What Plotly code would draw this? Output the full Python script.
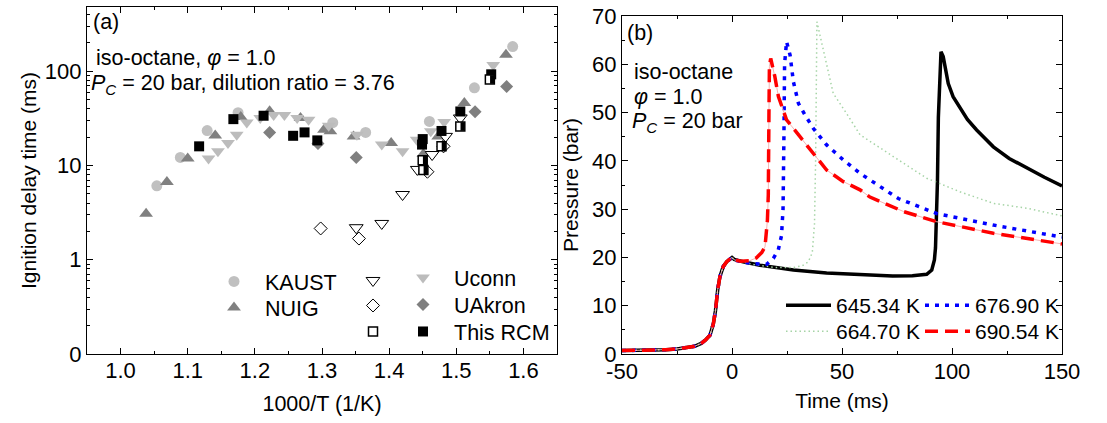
import plotly.graph_objects as go

# ---------------- panel (a): ignition delay times ----------------
kaust_x = [1.054, 1.089, 1.129, 1.175, 1.316, 1.365, 1.460, 1.527, 1.584]
kaust_y = [6.1, 12.2, 23.5, 36.4, 28.5, 22.5, 29.4, 66.9, 183]

nuig_x = [1.038, 1.069, 1.100, 1.141, 1.179, 1.222, 1.268, 1.303, 1.3125, 1.347, 1.403, 1.451, 1.473, 1.512, 1.574]
nuig_y = [3.08, 6.7, 11.9, 20.9, 32.7, 37.6, 32.0, 24.0, 23.1, 20.4, 17.4, 13.3, 20.4, 46.0, 150]

uconn_x = [1.131, 1.145, 1.160, 1.173, 1.188, 1.208, 1.228, 1.244, 1.263, 1.280, 1.310, 1.352, 1.389, 1.420, 1.441, 1.462, 1.482, 1.555]
uconn_y = [11.9, 14.2, 17.4, 21.2, 28.7, 31.9, 34.5, 34.5, 31.9, 30.6, 26.5, 21.2, 16.7, 14.2, 18.8, 23.1, 29.0, 117]

uconn_open_x = [1.351, 1.389, 1.420, 1.442, 1.464, 1.484, 1.506]
uconn_open_y = [2.19, 2.43, 4.93, 9.1, 13.1, 20.4, 32.0]

uakron_x = [1.222, 1.294, 1.351, 1.528, 1.575]
uakron_y = [22.5, 17.2, 12.2, 37.2, 69.0]

uakron_open_x = [1.298, 1.355, 1.457, 1.481]
uakron_open_y = [2.15, 1.68, 8.6, 16.0]

rcm_x = [1.117, 1.168, 1.213, 1.257, 1.274, 1.293, 1.450, 1.449, 1.478, 1.506, 1.552]
rcm_y = [16.0, 31.1, 33.8, 20.7, 22.5, 18.5, 19.1, 16.7, 23.3, 37.5, 93.0]

rcm_half_x = [1.451, 1.450, 1.478, 1.506, 1.550]
rcm_half_y = [9.0, 11.4, 16.0, 26.0, 82.0]

a_yticks = [0.1, 1, 10, 100]
a_yticktext = ["0", "1", "10", "100"]

# ---------------- panel (b): pressure traces ----------------
comp_t = [-50, -40, -30, -25, -20, -17, -14, -12, -10, -8.5, -7.5, -7, -6.5, -5.5, -4, -2.4, -1, 0]
comp_p = [0.7, 0.75, 0.9, 1.05, 1.3, 1.6, 2.2, 2.9, 3.9, 6.2, 9.0, 11.2, 13.3, 16.0, 18.1, 19.1, 19.7, 20.0]

k645_t = [1, 5, 12.7, 20, 27.9, 43, 58, 73, 82, 88.5, 90.8, 92.0, 92.5, 93, 93.4, 93.8, 94.4, 95, 96, 97, 98.3, 100.5, 103.6, 107, 111.2, 118.8, 126, 134, 142, 150]
k645_p = [19.6, 19.1, 18.4, 17.9, 17.4, 16.8, 16.4, 16.15, 16.2, 16.5, 17.4, 19.5, 22, 28.4, 36, 49, 58, 62.6, 61.6, 59.0, 56.0, 53.3, 51.2, 48.6, 46.4, 42.9, 40.5, 38.5, 36.6, 34.8]

k664_t = [1, 10, 20, 27.9, 32, 34.7, 36.5, 37.5, 38.0, 38.3, 38.6, 40, 43, 46, 52.1, 58.2, 73.3, 88.5, 103.6, 118.8, 134, 150]
k664_p = [19.5, 18.5, 17.9, 17.9, 18.3, 19.1, 21, 27, 40, 58, 68.8, 66, 60.2, 54, 49.8, 45.4, 40.9, 36.4, 33.6, 31.2, 30.2, 28.6]

k677_t = [1, 5, 10, 15.8, 18.8, 21, 22.5, 23.2, 23.6, 23.9, 24.8, 26.4, 27.9, 30.2, 33.2, 37, 43, 50.6, 58.2, 67.3, 75.6, 93, 118.8, 150]
k677_p = [19.5, 19.0, 18.7, 18.6, 19.8, 21.5, 24.5, 30, 45, 60, 64.7, 61.9, 56.4, 51.9, 49.5, 46.7, 43.3, 40.2, 37.4, 34.6, 32.2, 29.1, 26.7, 24.2]

k691_t = [1, 4, 8, 11, 13.5, 15, 16.1, 16.5, 16.8, 17.0, 17.6, 18.5, 19.5, 21.1, 24.8, 30.9, 37, 43, 50.6, 58.2, 62.7, 78, 93, 118.8, 150]
k691_p = [19.5, 19.2, 19.3, 19.9, 21.0, 22.2, 27.7, 33, 50, 59.5, 61.2, 59.5, 57.4, 53.3, 48.5, 45, 41.6, 38.1, 35.7, 34.0, 32.5, 29.5, 27.4, 25.0, 22.8]

b_xticks = [-50, 0, 50, 100, 150]
b_xticktext = ["-50", "0", "50", "100", "150"]

W, H = 1107, 423
FONT = "Arial, Liberation Sans, sans-serif"

# plot-area pixel boxes
AX_L = (87, 557, 7, 354)
AX_R = (622, 1062, 16, 354)
XA_RANGE = [0.95, 1.65]
YA_RANGE = [-1, 2.683]


def dom_x(b):
    return [b[0] / W, b[1] / W]


def dom_y(b):
    return [1 - b[3] / H, 1 - b[2] / H]


def px(x):
    return x / W


def py(y):
    return 1 - y / H


fig = go.Figure()

mk_line = dict(color="black", width=1)

# panel (a) traces
fig.add_trace(go.Scatter(x=kaust_x, y=kaust_y, mode="markers", name="KAUST", legend="legend",
                         marker=dict(symbol="circle", size=11, color="#c0c0c0"), xaxis="x", yaxis="y"))
fig.add_trace(go.Scatter(x=nuig_x, y=nuig_y, mode="markers", name="NUIG", legend="legend2",
                         marker=dict(symbol="triangle-up", size=12, color="#808080"), xaxis="x", yaxis="y"))
fig.add_trace(go.Scatter(x=uconn_x, y=uconn_y, mode="markers", name="Uconn", legend="legend6",
                         marker=dict(symbol="triangle-down", size=12, color="#bcbcbc"), xaxis="x", yaxis="y"))
fig.add_trace(go.Scatter(x=uakron_x, y=uakron_y, mode="markers", name="UAkron", legend="legend7",
                         marker=dict(symbol="diamond", size=10, color="#7f7f7f"), xaxis="x", yaxis="y"))
fig.add_trace(go.Scatter(x=uconn_open_x, y=uconn_open_y, mode="markers", name=" ", legend="legend3",
                         marker=dict(symbol="triangle-down", size=12, color="white", line=mk_line), xaxis="x", yaxis="y"))
fig.add_trace(go.Scatter(x=uakron_open_x, y=uakron_open_y, mode="markers", name=" ", legend="legend4",
                         marker=dict(symbol="diamond", size=10, color="white", line=mk_line), xaxis="x", yaxis="y"))
fig.add_trace(go.Scatter(x=rcm_x, y=rcm_y, mode="markers", name="This RCM", legend="legend8",
                         marker=dict(symbol="square", size=10, color="black"), xaxis="x", yaxis="y"))
fig.add_trace(go.Scatter(x=rcm_half_x, y=rcm_half_y, mode="markers", name=" ", legend="legend5",
                         legendgroup="half",
                         marker=dict(symbol="square", size=9, color="white", line=dict(color="black", width=1.5)),
                         xaxis="x", yaxis="y"))
# right half filled: a thick vertical bar (drawn as an error bar) over the right half of each square
px_per_x = (AX_L[1] - AX_L[0]) / (XA_RANGE[1] - XA_RANGE[0])
px_per_dec = (AX_L[3] - AX_L[2]) / (YA_RANGE[1] - YA_RANGE[0])
dx = 2.3 / px_per_x
f = 10 ** (4.3 / px_per_dec)
fig.add_trace(go.Scatter(x=[v + dx for v in rcm_half_x], y=rcm_half_y, mode="markers", showlegend=False,
                         legendgroup="half", hoverinfo="skip",
                         marker=dict(size=1, color="rgba(0,0,0,0)"),
                         error_y=dict(type="data", symmetric=False,
                                      array=[v * (f - 1) for v in rcm_half_y],
                                      arrayminus=[v * (1 - 1 / f) for v in rcm_half_y],
                                      thickness=4.2, width=0, color="black"),
                         xaxis="x", yaxis="y"))

# panel (b) traces
fig.add_trace(go.Scatter(x=comp_t + k645_t, y=comp_p + k645_p, mode="lines", name="645.34 K", legend="legend9",
                         line=dict(color="black", width=3.5), xaxis="x2", yaxis="y2"))
fig.add_trace(go.Scatter(x=comp_t + k664_t, y=comp_p + k664_p, mode="lines", name="664.70 K", legend="legend10",
                         line=dict(color="#a6d4a6", width=1.5, dash="1.5px,3px"), xaxis="x2", yaxis="y2"))
fig.add_trace(go.Scatter(x=comp_t + k677_t, y=comp_p + k677_p, mode="lines", name="676.90 K", legend="legend11",
                         line=dict(color="#0000ff", width=3.5, dash="4px,6px"), xaxis="x2", yaxis="y2"))
fig.add_trace(go.Scatter(x=comp_t + k691_t, y=comp_p + k691_p, mode="lines", showlegend=False,
                         legendgroup="r", line=dict(color="#f6b3b3", width=1), xaxis="x2", yaxis="y2"))
fig.add_trace(go.Scatter(x=comp_t + k691_t, y=comp_p + k691_p, mode="lines", name="690.54 K", legend="legend12",
                         legendgroup="r", line=dict(color="#ff0000", width=3.5, dash="13px,7px"), xaxis="x2", yaxis="y2"))

axis_common = dict(showline=True, linecolor="black", linewidth=1.2, mirror="ticks",
                   ticks="inside", ticklen=6, tickwidth=1, tickcolor="black",
                   showgrid=False, zeroline=False,
                   tickfont=dict(family=FONT, size=22, color="black"))

a_minor = [k * 10 ** e for e in range(-1, 3) for k in range(2, 10) if k * 10 ** e < 480]

layout = dict(
    width=W, height=H, template="none",
    paper_bgcolor="white", plot_bgcolor="white",
    margin=dict(l=0, r=0, t=0, b=0, autoexpand=False),
    font=dict(family=FONT, size=21, color="black"),
    xaxis=dict(axis_common, domain=dom_x(AX_L), range=XA_RANGE, tickmode="linear", tick0=1.0, dtick=0.1,
               tickformat=".1f", anchor="y", ticklabelstandoff=-4,
               minor=dict(dtick=0.05, tick0=1.0, ticks="inside", ticklen=3, tickcolor="black"),
               title=dict(text="1000/T (1/K)", font=dict(size=21.5), standoff=14)),
    yaxis=dict(axis_common, domain=dom_y(AX_L), type="log", range=YA_RANGE, anchor="x",
               tickmode="array", tickvals=a_yticks, ticktext=a_yticktext,
               minor=dict(tickmode="array", tickvals=a_minor, ticks="inside", ticklen=3, tickcolor="black"),
               title=dict(text="Ignition delay time (ms)", font=dict(size=21), standoff=2)),
    xaxis2=dict(axis_common, domain=dom_x(AX_R), range=[-50, 150], tickmode="array",
                tickvals=b_xticks, ticktext=b_xticktext, anchor="y2", ticklabelstandoff=-3,
                minor=dict(tickmode="linear", dtick=25, tick0=0, ticks="inside", ticklen=3, tickcolor="black"),
                title=dict(text="Time (ms)", font=dict(size=21), standoff=10)),
    yaxis2=dict(axis_common, domain=dom_y(AX_R), range=[0, 70], tickmode="linear", tick0=0, dtick=10,
                anchor="x2",
                minor=dict(dtick=5, tick0=0, ticks="inside", ticklen=3, tickcolor="black"),
                title=dict(text="Pressure (bar)", font=dict(size=21), standoff=7)),
)

# one legend per legend row so every entry can be placed like the reference
IW = 52
leg_pos = {
    "legend": (234, 282), "legend2": (234, 308),
    "legend3": (373, 281), "legend4": (373, 306), "legend5": (373, 332),
    "legend6": (423, 278), "legend7": (423, 305), "legend8": (423, 332),
}
for key, (sx, sy) in leg_pos.items():
    layout[key] = dict(x=px(sx - (IW / 2 + 5)), y=py(sy - 21), xanchor="left", yanchor="top",
                       bgcolor="rgba(0,0,0,0)", font=dict(size=21.5), itemwidth=IW)

leg_line = {"legend9": (781, 304), "legend10": (781, 330), "legend11": (920, 304), "legend12": (920, 330)}
for key, (lx, ly) in leg_line.items():
    layout[key] = dict(x=px(lx), y=py(ly - 19), xanchor="left", yanchor="top",
                       bgcolor="rgba(0,0,0,0)", font=dict(size=21), itemwidth=45)

fig.update_layout(**layout)

ann = dict(xref="paper", yref="paper", xanchor="left", yanchor="middle", showarrow=False,
           font=dict(family=FONT, size=21.5, color="black"))
texts = [
    ("(a)", 91, 22),
    ("iso-octane, <i>φ</i> = 1.0", 94, 58),
    ("<i>P</i><sub><i>C</i></sub> = 20 bar, dilution ratio = 3.76", 89, 84),
    ("(b)", 625, 33),
    ("iso-octane", 632, 72),
    ("<i>φ</i> = 1.0", 632, 97),
    ("<i>P</i><sub><i>C</i></sub> = 20 bar", 630, 123),
]
for t, x, y in texts:
    fig.add_annotation(ann, text=t, x=px(x), y=py(y))

fig.write_html("out.html")
